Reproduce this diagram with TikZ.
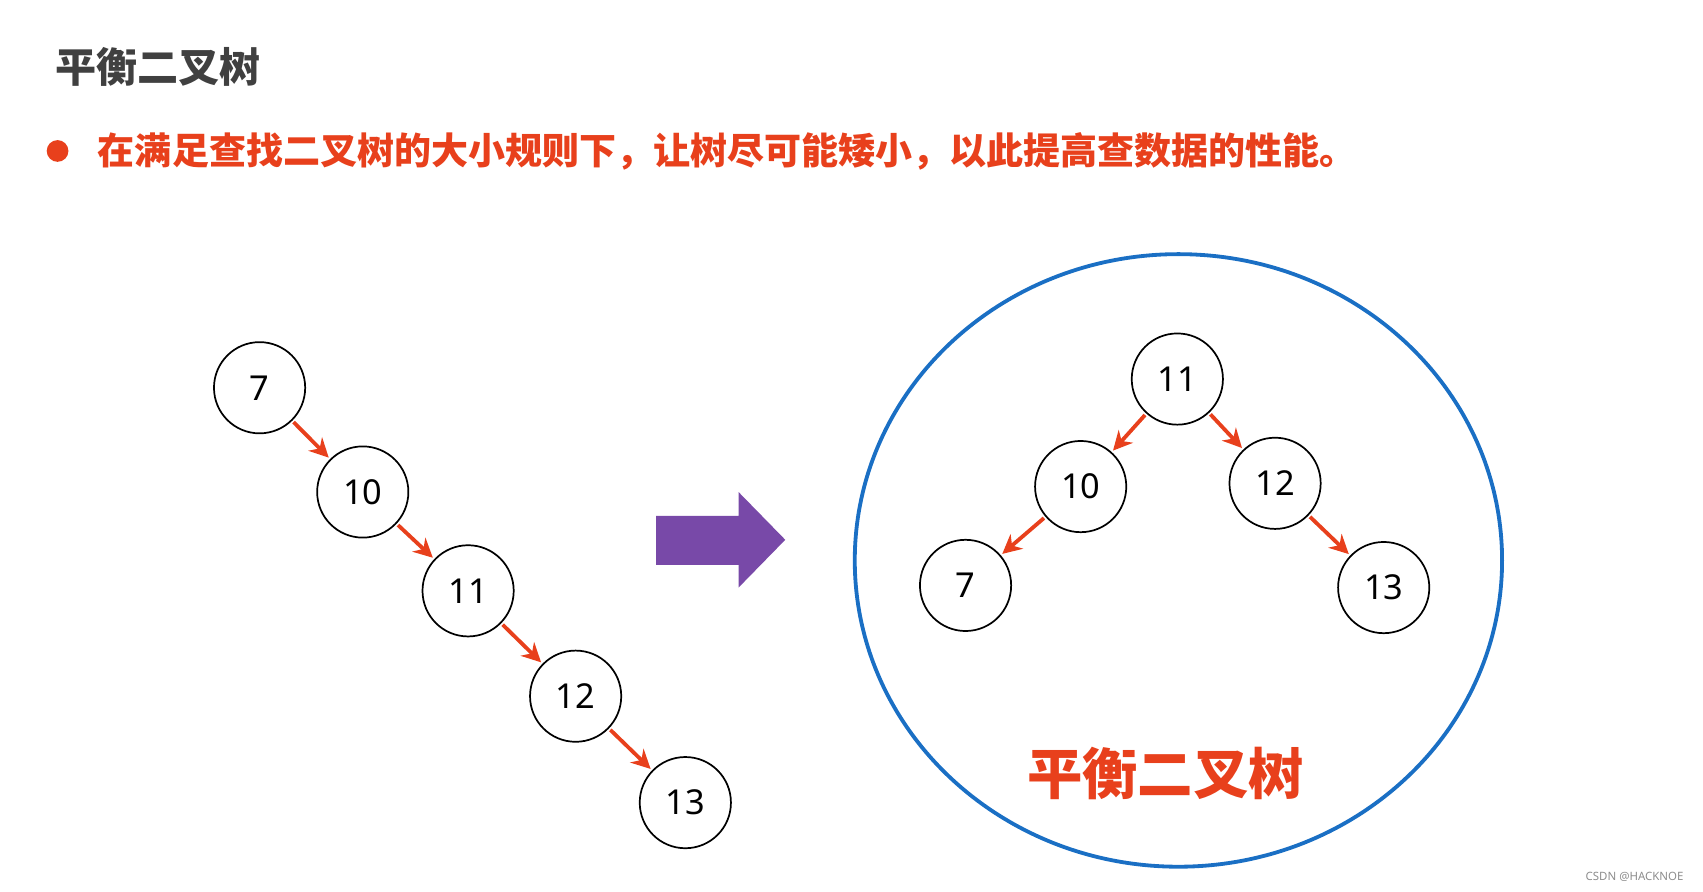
\documentclass[tikz,border=0pt]{standalone}
\usepackage{fontspec}
\setmainfont{Noto Sans}
\newfontfamily\cjk{Noto Sans CJK SC}
\usetikzlibrary{arrows.meta}
\definecolor{tred}{HTML}{E8401C}
\definecolor{tblue}{HTML}{1A6FC4}
\definecolor{tpurple}{HTML}{7849A8}
\tikzset{
  num/.style={circle,draw=black,line width=0.9pt,minimum size=1.68cm,inner sep=0pt,font=\fontsize{18}{20}\selectfont},
  edge/.style={draw=tred,line width=2pt,-{Stealth[length=10pt,width=10pt]},shorten >=1pt,shorten <=1pt}
}
\begin{document}
\begin{tikzpicture}[x=0.02cm,y=-0.02cm]
\useasboundingbox (0,0) rectangle (1568,821);
\node[anchor=west,text=black!75,font=\cjk\bfseries\fontsize{21.5}{24}\selectfont] (title) at (45,62) {平衡二叉树};
\node[circle,fill=tred,inner sep=0pt,minimum size=0.4cm] (dot) at (53,139) {};
\node[anchor=west,text=tred,font=\cjk\bfseries\fontsize{19.4}{22}\selectfont] (bl) at (84,139) {在满足查找二叉树的大小规则下，让树尽可能矮小，以此提高查数据的性能。};
% left chain
\node[num] (a7) at (239,357) {7};
\node[num] (a10) at (334,453) {10};
\node[num] (a11) at (431,544) {11};
\node[num] (a12) at (530,641) {12};
\node[num] (a13) at (631,739) {13};
\draw[edge] (a7) -- (a10);
\draw[edge] (a10) -- (a11);
\draw[edge] (a11) -- (a12);
\draw[edge] (a12) -- (a13);
% purple arrow
\fill[tpurple] (604,475) -- (680,475) -- (680,453) -- (723,497) -- (680,541) -- (680,520) -- (604,520) -- cycle;
% big circle
\draw[tblue,line width=2pt] (1085,516) ellipse [x radius=298,y radius=282];
\node[num] (b11) at (1084,349) {11};
\node[num] (b10) at (995,448) {10};
\node[num] (b12) at (1174,445) {12};
\node[num] (b7) at (889,539) {7};
\node[num] (b13) at (1274,541) {13};
\draw[edge] (b11) -- (b10);
\draw[edge] (b11) -- (b12);
\draw[edge] (b10) -- (b7);
\draw[edge] (b12) -- (b13);
\node[text=tred,font=\cjk\bfseries\fontsize{29}{32}\selectfont] (big) at (1073,712) {平衡二叉树};
\node[text=black!45,font=\fontsize{6}{7}\selectfont] (wm) at (1505,807) {CSDN @HACKNOE};
\end{tikzpicture}
\end{document}
